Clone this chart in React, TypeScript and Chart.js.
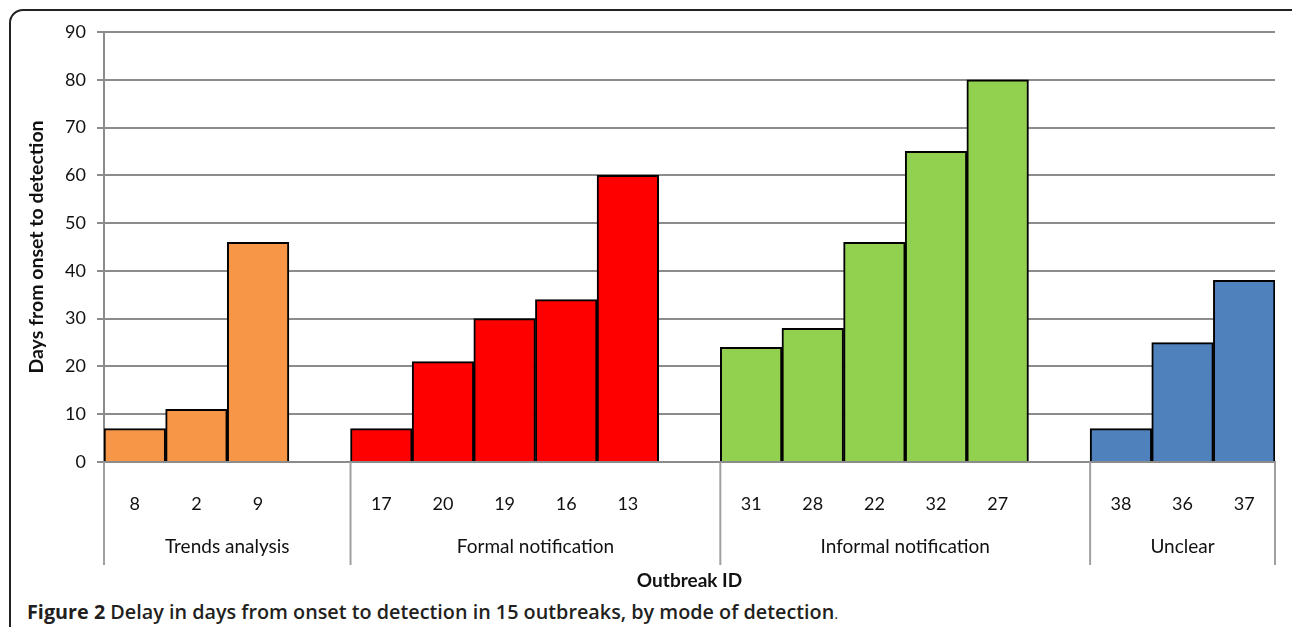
import React, { useEffect, useRef } from "react";
import { Chart, registerables } from "chart.js";

Chart.register(...registerables);

// one group per mode of detection, with an empty slot after each but the last
const groupNames = ["Trends analysis", "Formal notification", "Informal notification", "Unclear"];
const groupIds = [
  ["8", "2", "9"],
  ["17", "20", "19", "16", "13"],
  ["31", "28", "22", "32", "27"],
  ["38", "36", "37"],
];
const groupDelays = [
  [7, 11, 46],
  [7, 21, 30, 34, 60],
  [24, 28, 46, 65, 80],
  [7, 25, 38],
];
const groupColors = ["#F79646", "#FF0000", "#92D050", "#4F81BD"];
const yTicks = [0, 10, 20, 30, 40, 50, 60, 70, 80, 90];

const FONT = "Lato, 'Open Sans', sans-serif";
const GRID = "#8c8c8c";

const labels: string[] = [];
const values: (number | null)[] = [];
const colors: string[] = [];
const groupStarts: number[] = [];
groupIds.forEach((ids, g) => {
  groupStarts.push(labels.length);
  ids.forEach((id, i) => {
    labels.push(id);
    values.push(groupDelays[g][i]);
    colors.push(groupColors[g]);
  });
  if (g < groupIds.length - 1) {
    labels.push("");
    values.push(null);
    colors.push("transparent");
  }
});

const groupPlugin = {
  id: "groupLabels",
  afterDraw(chart: Chart) {
    const x = chart.scales.x;
    const ctx = chart.ctx;
    const slot = x.width / labels.length;
    const top = chart.chartArea.bottom;
    const edges = groupStarts.map((s) => x.getPixelForValue(s) - slot / 2);
    edges.push(x.right);
    ctx.save();
    ctx.strokeStyle = "#a0a0a0";
    ctx.lineWidth = 2;
    edges.forEach((ex) => {
      ctx.beginPath();
      ctx.moveTo(ex, top);
      ctx.lineTo(ex, 565);
      ctx.stroke();
    });
    ctx.fillStyle = "#111";
    ctx.font = `19px ${FONT}`;
    ctx.textAlign = "center";
    ctx.textBaseline = "middle";
    groupNames.forEach((name, g) => {
      ctx.fillText(name, (edges[g] + edges[g + 1]) / 2, 547);
    });
    ctx.restore();
  },
};

const App: React.FC = () => {
  const chartRef = useRef<HTMLCanvasElement | null>(null);
  const chartInstance = useRef<Chart | null>(null);

  useEffect(() => {
    if (!chartRef.current) return;
    if (chartInstance.current) chartInstance.current.destroy();

    chartInstance.current = new Chart(chartRef.current, {
      type: "bar",
      data: {
        labels,
        datasets: [
          {
            data: values,
            backgroundColor: colors,
            borderColor: "#000",
            borderWidth: 2,
            categoryPercentage: 1,
            barPercentage: 1,
          },
        ],
      },
      options: {
        animation: false,
        responsive: false,
        layout: { padding: { top: 32, right: 17, left: 0, bottom: 0 } },
        plugins: { legend: { display: false }, tooltip: { enabled: false } },
        scales: {
          x: {
            grid: { display: false },
            border: { display: true, color: GRID, width: 2 },
            ticks: { color: "#111", font: { family: FONT, size: 18 }, padding: 23, maxRotation: 0, autoSkip: false },
            title: {
              display: true,
              text: "Outbreak ID",
              color: "#111",
              font: { family: FONT, size: 19, weight: "bold" },
              padding: { top: 0, bottom: 6 },
            },
            afterFit: (scale: any) => {
              scale.height = 136;
            },
          },
          y: {
            min: 0,
            max: 90,
            afterBuildTicks: (scale: any) => {
              scale.ticks = yTicks.map((v) => ({ value: v }));
            },
            grid: { color: GRID, lineWidth: 2, tickLength: 7 },
            border: { display: true, color: GRID, width: 2 },
            ticks: { color: "#111", font: { family: FONT, size: 18 }, padding: 11 },
            title: {
              display: true,
              text: "Days from onset to detection",
              color: "#111",
              font: { family: FONT, size: 19.5, weight: "bold" },
              padding: { top: 25, bottom: 0 },
            },
            afterFit: (scale: any) => {
              scale.width = 104;
            },
          },
        },
      },
      plugins: [groupPlugin],
    });

    return () => {
      if (chartInstance.current) {
        chartInstance.current.destroy();
        chartInstance.current = null;
      }
    };
  }, []);

  return (
    <div
      style={{
        position: "fixed",
        left: 0,
        top: 0,
        width: 1292,
        height: 627,
        background: "#fff",
        overflow: "hidden",
      }}
    >
      <div
        style={{
          position: "absolute",
          left: 9,
          top: 9,
          width: 1300,
          height: 700,
          border: "2px solid #222",
          borderRadius: 14,
          boxSizing: "border-box",
        }}
      />
      <canvas
        ref={chartRef}
        width={1292}
        height={598}
        style={{ position: "absolute", left: 0, top: 0 }}
      />
      <div
        style={{
          position: "absolute",
          left: 27,
          top: 598,
          fontFamily: "'Open Sans', sans-serif",
          fontSize: 19.8,
          fontWeight: 600,
          color: "#231f20",
          whiteSpace: "nowrap",
          lineHeight: "28px",
        }}
      >
        <span style={{ fontWeight: 700 }}>Figure 2</span> Delay in days from onset to detection in 15
        outbreaks, by mode of detection
        <span style={{ fontWeight: 400, fontSize: 15 }}>.</span>
      </div>
    </div>
  );
};

export default App;
